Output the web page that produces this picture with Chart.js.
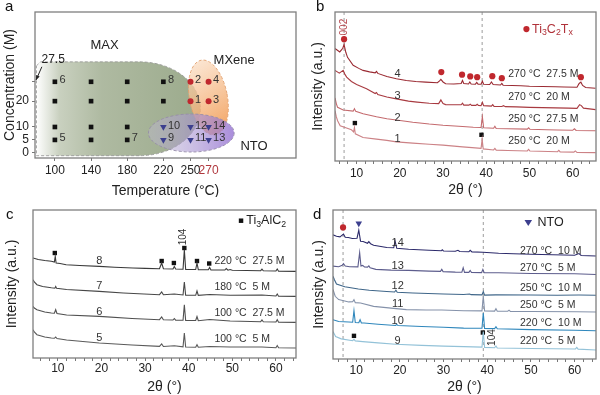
<!DOCTYPE html>
<html>
<head>
<meta charset="utf-8">
<script src="https://cdn.jsdelivr.net/npm/chart.js@4/dist/chart.umd.min.js"></script>
<style>
  html, body { margin: 0; padding: 0; background: #fff; }
  #wrap { position: relative; width: 600px; height: 395px; overflow: hidden; }
  canvas { position: absolute; }
</style>
</head>
<body>
<div id="wrap">
  <canvas id="pa" width="300" height="197" style="left:0;top:0"></canvas>
  <canvas id="pb" width="300" height="197" style="left:300px;top:0"></canvas>
  <canvas id="pc" width="300" height="198" style="left:0;top:197px"></canvas>
  <canvas id="pd" width="300" height="198" style="left:300px;top:197px"></canvas>
</div>
<script>
const FONT = "'Liberation Sans', Arial, Helvetica, sans-serif";
Chart.defaults.font.family = FONT;
Chart.defaults.color = '#222';

// ---- panel a: synthesis map ----
const aTempTicks = [100, 140, 180, 220, 250, 270];
const aConcTicks = [0, 5, 10, 20, 27.5];
const maxT = [100, 140, 180, 220, 100, 140, 180, 220, 100, 140, 180, 100, 140, 180];
const maxC = [27.5, 27.5, 27.5, 27.5, 20, 20, 20, 20, 10, 10, 10, 5, 5, 5];
const maxTags = ['6', '', '', '8', '', '', '', '', '', '', '', '5', '', '7'];
const mxT = [250, 270, 250, 270];
const mxC = [27.5, 27.5, 20, 20];
const mxTags = ['2', '4', '1', '3'];
const ntoT = [220, 250, 270, 220, 250, 270];
const ntoC = [10, 10, 10, 5, 5, 5];
const ntoTags = ['10', '12', '14', '9', '11', '13'];

// ---- XRD patterns: [2theta, intensity (stacked)] ----
const thetaTicks = [6, 8, 10, 12, 14, 16, 18, 20, 22, 24, 26, 28, 30, 32, 34, 36, 38, 40,
  42, 44, 46, 48, 50, 52, 54, 56, 58, 60, 62, 64];

const b1 = [[5,50],[5.3,44],[5.6,40],[6.2,35],[7.5,33],[8.8,31],[9.3,29],[9.5,33.3],[9.7,27],
  [11.5,23.3],[14.6,21.7],[17,20.5],[19.2,19],[23,17.8],[26.8,16.7],[30,15.8],[34.5,14],[36,13.5],
  [38.8,12.5],[39.05,21.7],[39.3,12],[41.7,11],[42,12.5],[42.3,10.8],[45,10.5],[49.5,10],[49.8,11.5],
  [50.1,10],[56.5,9.2],[56.8,10.5],[57.1,9],[60.3,8.8],[60.6,10],[61,8.6],[65.3,8.3]];
const b2 = [[5,62.7],[5.3,57],[5.6,53.3],[6.9,50.7],[9.2,49.5],[9.5,52],[9.8,49.3],[11.5,47],
  [14.6,44],[17,42],[19.2,40.7],[23,38.5],[26.8,36.7],[30,35.5],[34.5,34.3],[37,33.5],[38.8,33.3],
  [39.1,44],[39.4,33],[41.7,32.5],[42,34.5],[42.3,32.3],[45,32],[49.5,31.7],[49.8,33],[50.1,31.6],
  [54,31],[56.5,30.8],[60,30.5],[60.4,32],[60.8,30.3],[65.3,30]];
const b3 = [[5,90],[6,87.3],[6.9,90],[7.3,86],[7.7,83.3],[8.8,79],[10,76],[12.3,71.7],[14.3,67],
  [14.6,68],[14.9,66],[17,63.5],[19.2,61.7],[22,59.5],[24,58.5],[26.8,57.3],[29,57],[29.5,60.7],
  [30,57],[30.6,56],[32.5,55.8],[34.2,55.8],[34.5,57.5],[34.8,55.5],[36,55.5],[36.3,56.5],[36.6,55.3],
  [37.6,55.3],[37.9,56.3],[38.2,55.2],[38.8,55],[39.1,58.3],[39.4,55],[41.2,54.5],[41.5,56],
  [41.8,54.3],[43.6,54.2],[44,55],[44.4,54],[47,53.8],[50,53.3],[53,53],[56,52.8],[59,52.5],
  [61,52.3],[61.6,56],[62,55],[62.5,52.5],[65.3,51]];
const b4 = [[5,111.7],[6.1,108.3],[6.8,112],[7.1,115.7],[7.5,108],[7.9,103],[9.2,95],[10.5,92],
  [11.5,90],[13,88.5],[14.3,87.5],[14.6,89],[14.9,87],[17,84],[19.2,81.7],[21.5,80],[23.7,79],
  [26,78.3],[28.7,77.7],[29.2,79.5],[29.5,81],[30,78.5],[30.6,76.7],[32.5,76.5],[34.2,77],[34.5,80],
  [34.8,77],[35.9,76.5],[36.2,78.5],[36.5,76.5],[37.5,76.3],[37.8,78],[38.1,76.3],[38.8,76.3],
  [39.1,79.3],[39.4,76.2],[40.8,76],[41.2,78.5],[41.6,76],[43.3,75.5],[43.6,77],[43.9,75.3],
  [46,75],[48,74.7],[50,74.2],[53,74],[56,73.8],[58,73.5],[61,73.3],[61.5,77],[61.9,78.3],
  [62.3,75],[63,73],[65.3,72.3]];
const bMxX = [7.1, 29.6, 34.4, 36.3, 37.9, 41.4, 43.6, 61.9];
const bMxY = [121, 88.3, 85.7, 84, 83.3, 84.3, 82.3, 83.3];
const bMaxX = [9.6, 38.9];
const bMaxY = [37.7, 26];
const bNames = ['1', '2', '3', '4'];
const bConds = ['250 °C  20 M', '250 °C  27.5 M', '270 °C  20 M', '270 °C  27.5 M'];

const c5 = [[4.3,28.3],[4.6,26],[5.2,23.3],[7,21],[8.5,20],[9.2,19.7],[9.5,21],[9.8,19.5],[12,18],
  [19.5,15],[27,13],[33.3,11.6],[33.8,14],[34.2,11.5],[36.7,12.3],[38.7,11.2],[39,25],[39.3,11],
  [41.6,10.8],[41.9,13.3],[42.2,10.7],[44.8,11.5],[49.5,11],[56.8,11],[60,10.3],[60.3,12.5],
  [60.6,10.2],[64.6,10]];
const c6 = [[4.3,51.6],[4.6,50],[5.2,48.3],[7,46],[8.5,45],[9.2,44.8],[9.5,48.3],[9.8,44.5],[12,43],
  [19.5,41.6],[27,39.5],[33.3,38.3],[33.8,41],[34.2,38.2],[36.4,38],[36.7,39.5],[37,37.9],[38.7,37.8],
  [39,53.3],[39.3,37.6],[41.6,37.5],[41.9,41.5],[42.2,37.3],[44.8,38.5],[49.5,37],[56.5,36.3],
  [56.8,38],[57.1,36.2],[60,36],[60.3,38.3],[60.6,35.8],[64.6,35.6]];
const c7 = [[4.3,78.3],[4.6,76],[5.2,73.3],[6.5,71.5],[8.5,70.2],[9.3,69.8],[9.5,71.5],[9.7,69.7],
  [12,68.5],[19.5,66.6],[25,65],[33.3,63.3],[33.8,66],[34.2,63.2],[36.7,64],[38.7,63],[39,76],
  [39.3,62.8],[41.6,62.7],[41.9,67],[42.2,62.6],[44.8,63.5],[49.5,62.8],[56.8,63],[60,62],
  [60.3,64],[60.6,61.8],[64.6,61.6]];
const c8 = [[4.3,100],[5.5,98.5],[7,97.5],[8.5,96.7],[9.2,96],[9.4,101.7],[9.6,95],[10.5,94.5],
  [11.9,93.3],[15,92.5],[19.5,91.6],[23,90.8],[27.2,90],[30,89.6],[33.3,89.3],[33.8,95],[34.2,89.3],
  [36.4,89],[36.7,91.6],[37,89],[38.7,88.8],[39,108.3],[39.3,88.6],[41.6,88.5],[41.9,95],[42.2,88.4],
  [44.5,88.2],[44.8,90.6],[45.1,88.1],[48.3,88],[48.6,89.5],[49,87.8],[49.5,88.5],[50,87.7],
  [56.5,87.3],[56.8,88.8],[57.1,87.2],[60,87],[60.3,89],[60.6,86.8],[64.6,86.6]];
const cMaxX = [9.3, 33.8, 36.6, 39, 41.9, 44.7];
const cMaxY = [105, 97, 95, 110, 97, 94.5];
const cNames = ['5', '6', '7', '8'];
const cConds = ['100 °C  5 M', '100 °C  27.5 M', '180 °C  5 M', '220 °C  27.5 M'];

const d9 = [[4.7,27.3],[5.3,22.3],[6.6,20],[9.2,18.2],[9.5,19.5],[9.8,18],[11.5,17.3],[15,16],
  [19,14.7],[25,13.5],[30,12.8],[34.6,12.3],[38.8,11.8],[39.1,27.3],[39.4,11.5],[41.7,11.2],[42,13],
  [42.3,11],[50,10.5],[60.2,10],[60.5,11.5],[60.8,9.8],[64.9,9]];
const d10 = [[4.7,39],[6,37.3],[8.3,36.8],[9.2,36.5],[9.5,48],[9.8,36.3],[10.6,36],[10.9,39],
  [11.2,35.8],[11.8,35.7],[15,34.5],[19,33.3],[19.3,34.3],[19.6,33.2],[25,32.3],[30,31.6],[34.6,30.7],
  [38.8,30.5],[39.1,45.7],[39.4,30.3],[41.7,30.2],[42,32],[42.3,30],[50,29.2],[60,28.5],[64.9,28]];
const d11 = [[4.7,69],[5.2,62.3],[6,59],[8.3,56.7],[9.2,56.8],[9.5,59],[9.8,56],[11,55.7],[14,52.3],
  [18,50.5],[21.5,49],[26,48.7],[29.6,48.6],[34.6,48],[38.8,47.8],[39.1,62.3],[39.4,47.7],[41.7,47.6],
  [42,50],[42.3,47.5],[44.7,47.4],[45,48.5],[45.3,47.3],[50,47.2],[60.5,47],[64.9,46.7]];
const d12 = [[4.7,82.3],[5,79],[5.5,74.5],[7.4,71.8],[10.5,69.5],[13,68.3],[17,67],[18.8,66.5],
  [19.1,68.3],[19.4,66.3],[23,65.6],[30,64.6],[34.6,64],[36,64.5],[36.3,63.9],[38.8,63.7],[39.1,67],
  [39.4,63.5],[42,63.7],[50,63.5],[56,63.3],[61,63.5],[64.9,63.3]];
const d13 = [[4.7,92.3],[6,91.7],[6.8,93],[7.1,94.7],[7.5,92.3],[8.5,91.7],[10.4,91.5],[10.8,105.7],
  [11.1,92.3],[11.5,93],[11.9,91.5],[12.6,91.3],[12.9,92.5],[13.2,90.5],[14.5,89],[18,88.3],[22,88],
  [26.7,87.3],[29.3,87],[29.6,89],[29.9,86.8],[32.7,86.3],[34.2,86.2],[34.5,90.7],[34.8,86],[35.8,86],
  [36.1,88],[36.4,85.9],[38.7,85.8],[39,89],[39.3,85.7],[42.6,85.7],[50,85],[60,84.7],[64.9,84]];
const d14 = [[4.7,123.3],[5.5,122],[6.3,121.3],[6.8,123],[7.1,124],[7.5,121],[8.2,120.7],[9.1,119.7],
  [10.2,120],[10.6,128],[11,117],[11.6,116.7],[12.6,115],[12.9,116.5],[13.3,114.5],[14,113],[15,112.3],
  [17,110.7],[18.6,110.5],[18.9,117.3],[19.3,110],[22,109],[26.7,108],[29.5,107.5],[29.7,108.5],
  [30,107.3],[32.7,107],[33.3,108],[33.7,106.8],[35.8,106.5],[36.1,108],[36.5,106.4],[39,106],
  [42.6,105],[46,104.5],[50,104],[55,103.5],[60,103],[61,104.7],[61.5,102.8],[64.9,102.3]];
const dMxX = [7.0];
const dMxY = [130.7];
const dNtoX = [10.6];
const dNtoY = [134.7];
const dMaxX = [9.5, 39];
const dMaxY = [23, 26.3];
const dNames = ['9', '10', '11', '12', '13', '14'];
const dConds = ['220 °C  5 M', '220 °C  10 M', '250 °C  5 M', '250 °C  10 M', '270 °C  5 M', '270 °C  10 M'];

// ---- helpers ----
const pts = arr => arr.map(([x, y]) => ({ x, y }));
const zip = (xs, ys) => xs.map((x, i) => ({ x, y: ys[i] }));

function mark(ctx, kind, px, py, r, color) {
  ctx.fillStyle = color;
  ctx.beginPath();
  if (kind === 'circle') ctx.arc(px, py, r, 0, Math.PI * 2);
  else if (kind === 'rect') ctx.rect(px - r * 0.72, py - r * 0.72, r * 1.44, r * 1.44);
  else { ctx.moveTo(px - r, py - r * 0.6); ctx.lineTo(px + r, py - r * 0.6); ctx.lineTo(px, py + r * 0.95); ctx.closePath(); }
  ctx.fill();
}

function rich(ctx, parts, x0, y0, size) {
  let cx = x0;
  parts.forEach(([s, sub]) => {
    const fs = sub ? size * 0.7 : size;
    ctx.font = fs + 'px ' + FONT;
    ctx.fillText(s, cx, y0 + (sub ? size * 0.28 : 0));
    cx += ctx.measureText(s).width;
  });
}

// draws frame, reference lines, labels and legend items for one panel
function decor(cfg) {
  return {
    id: 'decor',
    beforeDatasetsDraw(chart) {
      const { ctx, chartArea: a, scales: { x, y } } = chart;
      ctx.save();
      ctx.beginPath();
      ctx.rect(a.left, a.top, a.width, a.height);
      ctx.clip();
      if (cfg.regions) cfg.regions(ctx, x, y);
      (cfg.vlines || []).forEach(v => {
        const px = x.getPixelForValue(v);
        ctx.setLineDash([3, 3]);
        ctx.strokeStyle = '#9c9c9c';
        ctx.lineWidth = 1;
        ctx.beginPath(); ctx.moveTo(px, a.top); ctx.lineTo(px, a.bottom); ctx.stroke();
      });
      ctx.restore();
    },
    afterDatasetsDraw(chart) {
      const { ctx, chartArea: a, scales: { x, y } } = chart;
      ctx.save();
      ctx.strokeStyle = '#7f7f7f';
      ctx.lineWidth = 1.3;
      ctx.strokeRect(a.left, a.top, a.width, a.height);
      ctx.textBaseline = 'middle';
      chart.data.datasets.forEach((ds, i) => {
        if (!ds.tags) return;
        chart.getDatasetMeta(i).data.forEach((p, j) => {
          if (!ds.tags[j]) return;
          ctx.font = '11px ' + FONT; ctx.fillStyle = '#333'; ctx.textAlign = 'left';
          ctx.fillText(ds.tags[j], p.x + 4.5, p.y - 1.5);
        });
      });
      (cfg.texts || []).forEach(t => {
        ctx.save();
        ctx.translate(x.getPixelForValue(t.x), y.getPixelForValue(t.y));
        if (t.rot) ctx.rotate(t.rot);
        ctx.fillStyle = t.color || '#333';
        ctx.textAlign = t.align || 'left';
        if (t.parts) rich(ctx, t.parts, 0, 0, t.size);
        else { ctx.font = (t.size || 10.5) + 'px ' + FONT; ctx.fillText(t.text, 0, 0); }
        ctx.restore();
      });
      (cfg.keys || []).forEach(k => mark(ctx, k.kind, x.getPixelForValue(k.x), y.getPixelForValue(k.y), k.r, k.color));
      if (cfg.extra) cfg.extra(ctx, x, y);
      ctx.font = '15px ' + FONT; ctx.fillStyle = '#111'; ctx.textAlign = 'left';
      ctx.fillText(cfg.letter[0], cfg.letter[1], cfg.letter[2]);
      ctx.restore();
    }
  };
}

function baseOptions(box, H, xs, ys) {
  return {
    responsive: false, animation: false, devicePixelRatio: 1,
    layout: { padding: { left: 0, top: box.top, right: 300 - box.right, bottom: 0 } },
    plugins: { legend: { display: false }, tooltip: { enabled: false } },
    scales: {
      x: Object.assign({ type: 'linear', afterFit: s => { s.height = H - box.bottom; } }, xs),
      y: Object.assign({ type: 'linear', afterFit: s => { s.width = box.left; } }, ys)
    }
  };
}

function thetaAxis(min, max, tickPad, titlePad) {
  return {
    min, max,
    afterBuildTicks: s => { s.ticks = thetaTicks.map(v => ({ value: v })); },
    ticks: { autoSkip: false, maxRotation: 0, padding: tickPad, font: { size: 12 }, color: '#222',
      callback: v => (v % 10 === 0 ? String(v) : '') },
    grid: { drawOnChartArea: false, tickLength: 3, color: '#777', lineWidth: 1 },
    border: { display: false },
    title: { display: true, text: '2θ (°)', color: '#222', font: { size: 14, lineHeight: 1 },
      padding: { top: 0, bottom: titlePad } }
  };
}

function intensityAxis(pad) {
  return {
    min: 0, max: 148,
    ticks: { display: false }, grid: { display: false }, border: { display: false },
    title: { display: true, text: 'Intensity (a.u.)', color: '#222', font: { size: 14, lineHeight: 1 },
      padding: { top: pad, bottom: 0 } }
  };
}

const curve = (arr, color) => ({ data: pts(arr), showLine: true, borderColor: color, borderWidth: 1.1,
  pointRadius: 0, fill: false });
const markers = (xs, ys, style, r, color) => ({ data: zip(xs, ys), pointStyle: style, pointRadius: r,
  pointRotation: style === 'triangle' ? 180 : 0, backgroundColor: color, borderColor: color, borderWidth: 0 });

function labelTexts(names, conds, nameX, nameY, condX, condY) {
  const out = [];
  names.forEach((n, i) => out.push({ x: nameX, y: nameY[i], text: n, align: 'center', size: 11 }));
  conds.forEach((c, i) => out.push({ x: condX, y: condY[i], text: c, size: 10.5 }));
  return out;
}

// ---- panel a ----
function drawPhaseRegions(ctx, x, y) {
  const X = v => x.getPixelForValue(v), Y = v => y.getPixelForValue(v);
  ctx.setLineDash([3, 2]);
  ctx.lineWidth = 1;
  // MAX
  const l = X(79.6), t = Y(35.2), b = Y(-1.1), cx = X(193.7), rx = X(261) - cx;
  ctx.beginPath();
  ctx.moveTo(l, t + 4); ctx.lineTo(l + 4, t); ctx.lineTo(cx, t);
  ctx.ellipse(cx, (t + b) / 2, rx, (b - t) / 2, 0, -Math.PI / 2, Math.PI / 2);
  ctx.lineTo(l, b);
  ctx.closePath();
  let g = ctx.createLinearGradient(l, 0, cx + rx, 0);
  g.addColorStop(0, 'rgba(255,255,255,0.95)');
  g.addColorStop(0.14, 'rgba(198,206,188,0.95)');
  g.addColorStop(0.4, 'rgba(170,182,156,0.95)');
  g.addColorStop(1, 'rgba(150,166,134,0.95)');
  ctx.fillStyle = g; ctx.fill();
  ctx.strokeStyle = 'rgba(150,150,150,0.85)'; ctx.stroke();
  // MXene
  const mx = X(269.8), my = Y(21.4), ma = Y(21.4 - 14.7) - my, mb = X(269.8 + 21) - mx;
  ctx.beginPath();
  ctx.ellipse(mx, my, mb, ma, -0.19, 0, Math.PI * 2);
  g = ctx.createLinearGradient(mx - mb, my - ma, mx + mb, my + ma * 0.6);
  g.addColorStop(0, 'rgba(250,224,200,0.7)');
  g.addColorStop(1, 'rgba(242,158,88,0.85)');
  ctx.fillStyle = g; ctx.fill();
  ctx.strokeStyle = 'rgba(225,160,110,0.9)'; ctx.stroke();
  // NTO
  const nx = X(250.9), ny = Y(7.67), nrx = X(250.9 + 47.4) - nx, nry = Y(7.67 - 7.35) - ny;
  ctx.beginPath();
  ctx.ellipse(nx, ny, nrx, nry, 0, 0, Math.PI * 2);
  g = ctx.createLinearGradient(nx - nrx, 0, nx + nrx, 0);
  g.addColorStop(0, 'rgba(190,186,205,0.45)');
  g.addColorStop(0.5, 'rgba(170,150,210,0.6)');
  g.addColorStop(1, 'rgba(148,112,210,0.8)');
  ctx.fillStyle = g; ctx.fill();
  ctx.strokeStyle = 'rgba(150,140,170,0.9)'; ctx.stroke();
}

function drawArrow(ctx, x, y) {
  const x0 = x.getPixelForValue(85.6), y0 = y.getPixelForValue(33.3);
  const x1 = x.getPixelForValue(79.2), y1 = y.getPixelForValue(28.2);
  ctx.strokeStyle = '#222'; ctx.fillStyle = '#222'; ctx.lineWidth = 1; ctx.setLineDash([]);
  ctx.beginPath(); ctx.moveTo(x0, y0); ctx.lineTo(x1, y1); ctx.stroke();
  const ang = Math.atan2(y1 - y0, x1 - x0);
  ctx.beginPath();
  ctx.moveTo(x1, y1);
  ctx.lineTo(x1 - 5 * Math.cos(ang - 0.4), y1 - 5 * Math.sin(ang - 0.4));
  ctx.lineTo(x1 - 5 * Math.cos(ang + 0.4), y1 - 5 * Math.sin(ang + 0.4));
  ctx.closePath(); ctx.fill();
}

const optA = baseOptions({ left: 35, top: 12, right: 297, bottom: 158 }, 197, {
  min: 78, max: 366.7,
  afterBuildTicks: s => { s.ticks = aTempTicks.map(v => ({ value: v })); },
  ticks: { autoSkip: false, maxRotation: 0, padding: 2.5, font: { size: 12 },
    color: c => (c.tick && c.tick.value === 270 ? '#b0383e' : '#222') },
  grid: { drawOnChartArea: false, tickLength: 3, color: '#777' },
  border: { display: false },
  title: { display: true, text: 'Temperature (°C)', color: '#222', font: { size: 14, lineHeight: 1 },
    padding: { top: 0, bottom: -1.5 } }
}, {
  min: -2, max: 54.5,
  afterBuildTicks: s => { s.ticks = aConcTicks.map(v => ({ value: v })); },
  ticks: { autoSkip: false, padding: 3, font: { size: 12 }, color: '#222',
    callback: v => (v === 27.5 ? '' : String(v)) },
  grid: { drawOnChartArea: false, tickLength: 3, color: '#777' },
  border: { display: false },
  title: { display: true, text: 'Concentration (M)', color: '#222', font: { size: 14, lineHeight: 1 },
    padding: { top: 3, bottom: 0 } }
});

new Chart(document.getElementById('pa'), {
  type: 'scatter',
  data: { datasets: [
    Object.assign(markers(maxT, maxC, 'rect', 3.3, '#111'), { tags: maxTags }),
    Object.assign(markers(mxT, mxC, 'circle', 3, '#c0282e'), { tags: mxTags }),
    Object.assign(markers(ntoT, ntoC, 'triangle', 3.8, '#3c3f8e'), { tags: ntoTags })
  ] },
  options: optA,
  plugins: [decor({
    regions: drawPhaseRegions,
    extra: drawArrow,
    letter: ['a', 5, 7],
    texts: [
      { x: 155, y: 41.7, text: 'MAX', align: 'center', size: 13, color: '#222' },
      { x: 298.3, y: 35.9, text: 'MXene', align: 'center', size: 13, color: '#222' },
      { x: 320.3, y: 2.4, text: 'NTO', align: 'center', size: 13, color: '#222' },
      { x: 98.1, y: 35.9, text: '27.5', align: 'center', size: 12, color: '#222' }
    ]
  })]
});

// ---- panel b ----
new Chart(document.getElementById('pb'), {
  type: 'scatter',
  data: { datasets: [
    curve(b1, '#cc8286'), curve(b2, '#c46a6e'), curve(b3, '#a83a40'), curve(b4, '#9a2a32'),
    markers(bMxX, bMxY, 'circle', 3.1, '#c0282e'),
    markers(bMaxX, bMaxY, 'rect', 3.1, '#111')
  ] },
  options: baseOptions({ left: 35, top: 12, right: 297, bottom: 161 }, 197,
    thetaAxis(5, 65.4, 2, 0), intensityAxis(11)),
  plugins: [decor({
    vlines: [7.1, 39.05],
    letter: ['b', 16, 7],
    texts: labelTexts(bNames, bConds, 19.5, [21.7, 42.7, 65, 86], 45.1, [20, 41.7, 63.3, 86]).concat([
      { x: 7.1, y: 133, text: '002', rot: -Math.PI / 2, align: 'center', size: 10, color: '#b5474d' },
      { x: 50.6, y: 131, parts: [['Ti', 0], ['3', 1], ['C', 0], ['2', 1], ['T', 0], ['x', 1]], size: 12.5, color: '#b0323a' }
    ]),
    keys: [{ kind: 'circle', x: 49.3, y: 131, r: 3.1, color: '#c0282e' }]
  })]
});

// ---- panel c ----
new Chart(document.getElementById('pc'), {
  type: 'scatter',
  data: { datasets: [
    curve(c5, '#5a5a5a'), curve(c6, '#505050'), curve(c7, '#474747'), curve(c8, '#3a3a3a'),
    markers(cMaxX, cMaxY, 'rect', 3.1, '#111')
  ] },
  options: baseOptions({ left: 33, top: 13, right: 297, bottom: 161 }, 198,
    thetaAxis(4.3, 64.6, 0, 1.3), intensityAxis(4.7)),
  plugins: [decor({
    letter: ['c', 6, 18],
    texts: labelTexts(cNames, cConds, 19.5, [20, 46, 71.6, 96.6], 45.9, [19, 45, 71, 96.6]).concat([
      { x: 38.8, y: 121, text: '104', rot: -Math.PI / 2, align: 'center', size: 10, color: '#333' },
      { x: 53.2, y: 137.3, parts: [['Ti', 0], ['3', 1], ['AlC', 0], ['2', 1]], size: 12.5, color: '#222' }
    ]),
    keys: [{ kind: 'rect', x: 52, y: 137.3, r: 3.1, color: '#111' }]
  })]
});

// ---- panel d ----
new Chart(document.getElementById('pd'), {
  type: 'scatter',
  data: { datasets: [
    curve(d9, '#93c2d8'), curve(d10, '#2f87bc'), curve(d11, '#8592aa'),
    curve(d12, '#3f6689'), curve(d13, '#5d5d8d'), curve(d14, '#2c2a6b'),
    markers(dMxX, dMxY, 'circle', 3.1, '#c0282e'),
    markers(dNtoX, dNtoY, 'triangle', 3.8, '#3c3f8e'),
    markers(dMaxX, dMaxY, 'rect', 3.1, '#111')
  ] },
  options: baseOptions({ left: 33, top: 13, right: 298, bottom: 162 }, 198,
    thetaAxis(4.7, 64.9, 1, 1.3), intensityAxis(11.7)),
  plugins: [decor({
    vlines: [7.0, 39.1],
    letter: ['d', 13, 18],
    texts: labelTexts(dNames, dConds, 19.5, [18.3, 37.3, 55, 73, 92.3, 115.7], 47.5,
      [17.3, 35.7, 53.3, 70.7, 90, 107.3]).concat([
      { x: 41.1, y: 21.3, text: '104', rot: -Math.PI / 2, align: 'center', size: 10, color: '#333' },
      { x: 51.5, y: 135.7, text: 'NTO', size: 12.5, color: '#222' }
    ]),
    keys: [{ kind: 'tri', x: 49.4, y: 135.7, r: 3.8, color: '#3c3f8e' }]
  })]
});
</script>
</body>
</html>
